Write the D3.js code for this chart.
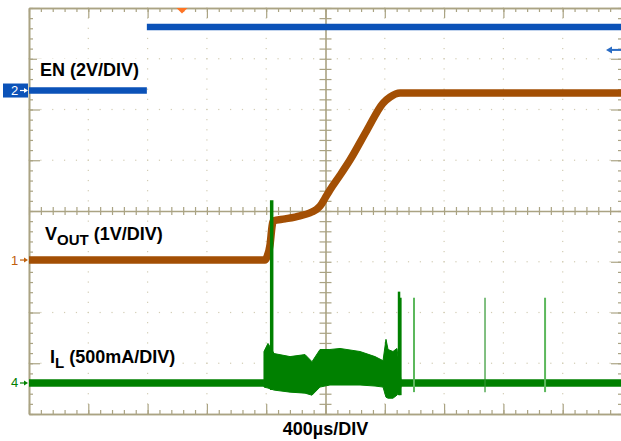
<!DOCTYPE html>
<html>
<head>
<meta charset="utf-8">
<script src="https://cdn.jsdelivr.net/npm/d3@7"></script>
<style>
  html, body { margin: 0; padding: 0; background: #fff; }
  svg { display: block; font-family: "Liberation Sans", Arial, sans-serif; }
</style>
</head>
<body>
<div id="scope"></div>
<script>
// horizontal: 10 div at 400us/div, screen starts at 0us
const timeTicks = d3.range(0, 4001, 400);
const minorTime = d3.range(0, 4001, 80);
const divTicks = d3.range(-4, 4.001, 1);
const minorDiv = d3.range(-4, 4.001, 0.2);

// channel setup: name, volts (or amps) per div, ground marker in divisions from centre
const chName = ["1", "2", "4"];
const chPerDiv = [1, 2, 0.5];
const chGround = [-0.966, 2.374, -3.389];

// EN, ch2 (V) - edge is too fast to show, so break the trace
const enTime = [0, 795, 795, 795, 4000];
const enVolt = [0, 0, null, 2.5, 2.5];

// VOUT, ch1 (V)
const voutTime = [0, 1592, 1605, 1626, 1639, 1646, 1727, 1828, 1895, 1936, 1963, 1997, 2030, 2098, 2165, 2280, 2388, 2435, 2503, 4000];
const voutVolt = [0, 0, 0.06, 0.30, 0.65, 0.77, 0.81, 0.87, 0.93, 0.99, 1.06, 1.22, 1.38, 1.67, 1.97, 2.56, 3.09, 3.21, 3.29, 3.29];

// IL, ch4 (A): quiet baseline pieces
const ilQuietTime = [[0, 1585], [2509, 4000]];
// switching band envelope
const ilBandTime = [1585, 1612, 1653, 1761, 1862, 1909, 1963, 2030, 2098, 2233, 2334, 2388, 2408, 2422, 2455, 2482, 2509];
const ilBandHigh = [0.31, 0.39, 0.29, 0.26, 0.28, 0.21, 0.33, 0.33, 0.34, 0.31, 0.26, 0.22, 0.43, 0.33, 0.31, 0.34, 0.03];
const ilBandLow = [-0.04, -0.05, -0.07, -0.09, -0.10, -0.12, -0.04, -0.02, -0.02, -0.02, -0.03, -0.04, -0.14, -0.15, -0.15, -0.12, -0.04];
// big spikes
const ilSpikeTime = [1637, 2496, 2505];
const ilSpikePeak = [1.80, 0.90, 0.84];
const ilSpikeLow = [-0.07, -0.12, -0.12];
// later glitches
const ilGlitchTime = [2597, 3076, 3481];
const ilGlitchPeak = [0.84, 0.84, 0.84];
const ilGlitchLow = [-0.09, -0.09, -0.09];

// trigger readouts
const trigTime = 1032;
const trigLevel = 1.6; // on ch2

const W = 621, H = 441;
const gridColor = "#aaa383";
const dotColor = "#d2ccb4";
const cBlue = "#0b52b8", cBrown = "#a34f04", cGreen = "#008000";

const x = d3.scaleLinear().domain([0, 4000]).range([29, 622]);
const yDiv = d3.scaleLinear().domain([-4, 4]).range([414, 8]);
const chY = i => v => yDiv(chGround[i] + v / chPerDiv[i]);
const y1 = chY(0), y2 = chY(1), y4 = chY(2);

const svg = d3.select("#scope").append("svg")
  .attr("width", W).attr("height", H);

// grid dots on the major lines
const dots = svg.append("g").attr("fill", dotColor);
timeTicks.filter(t => t > 0 && t < 4000 && t !== 2000).forEach(t => {
  minorDiv.forEach(d => {
    dots.append("rect").attr("x", x(t) - 0.6).attr("y", yDiv(d) - 0.6)
      .attr("width", 1.2).attr("height", 1.2);
  });
});
divTicks.filter(d => d > -4 && d < 4 && d !== 0).forEach(d => {
  minorTime.forEach(t => {
    dots.append("rect").attr("x", x(t) - 0.6).attr("y", yDiv(d) - 0.6)
      .attr("width", 1.2).attr("height", 1.2);
  });
});

const styleAxis = g => {
  g.select(".domain").attr("stroke", gridColor).attr("stroke-width", 1.6);
  g.selectAll(".tick line").attr("stroke", gridColor).attr("stroke-width", 1.2);
  g.selectAll(".tick text").remove();
};

// border with ticks
const border = svg.append("g");
[[d3.axisBottom(x), "translate(0,8)"], [d3.axisTop(x), "translate(0,414)"]].forEach(([ax, tr]) => {
  border.append("g").attr("transform", tr)
    .call(ax.tickValues(minorTime).tickSize(4).tickSizeOuter(0).tickFormat("")).call(styleAxis);
  border.append("g").attr("transform", tr)
    .call(ax.tickValues(timeTicks).tickSize(10).tickSizeOuter(0).tickFormat("")).call(styleAxis);
});
[[d3.axisRight(yDiv), "translate(29,0)"], [d3.axisLeft(yDiv), "translate(622,0)"]].forEach(([ax, tr]) => {
  border.append("g").attr("transform", tr)
    .call(ax.tickValues(minorDiv).tickSize(4).tickSizeOuter(0).tickFormat("")).call(styleAxis);
  border.append("g").attr("transform", tr)
    .call(ax.tickValues(divTicks).tickSize(11).tickSizeOuter(0).tickFormat("")).call(styleAxis);
});

// centre cross
const cx = svg.append("g").attr("transform", `translate(0,${yDiv(0)})`)
  .call(d3.axisBottom(x).tickValues(minorTime).tickSize(4).tickSizeOuter(0).tickFormat(""))
  .call(styleAxis);
cx.selectAll(".tick line").attr("y1", -4);
const cy = svg.append("g").attr("transform", `translate(${x(2000)},0)`)
  .call(d3.axisRight(yDiv).tickValues(minorDiv).tickSize(6).tickSizeOuter(0).tickFormat(""))
  .call(styleAxis);
cy.selectAll(".tick line").attr("x1", -6);

// channel labels
const labels = svg.append("g").attr("font-weight", "bold").attr("font-size", 18).attr("fill", "#000");
function addLabel(xp, yp, parts) {
  const bg = labels.append("rect").attr("fill", "#fff");
  const t = labels.append("text").attr("x", xp).attr("y", yp);
  parts.forEach(([s, sub], i) => {
    const back = i > 0 && parts[i - 1][1] && !sub;
    t.append("tspan").attr("font-size", sub ? 15 : 18)
      .attr("dy", sub ? 5 : (back ? -5 : 0)).text(s);
  });
  const b = t.node().getBBox();
  bg.attr("x", b.x - 3).attr("y", b.y - 1).attr("width", b.width + 6).attr("height", b.height + 2);
}
addLabel(40, 75.5, [["EN (2V/DIV)", false]]);
addLabel(45, 240, [["V", false], ["OUT", true], [" (1V/DIV)", false]]);
addLabel(50, 363, [["I", false], ["L", true], [" (500mA/DIV)", false]]);

svg.append("text").attr("x", x(2000)).attr("y", 435).attr("text-anchor", "middle")
  .attr("font-weight", "bold").attr("font-size", 18).text("400µs/DIV");

// traces
const traces = svg.append("g").attr("fill", "none").attr("stroke-linejoin", "round");

const enLine = d3.line().defined(d => d[1] !== null).x(d => x(d[0])).y(d => y2(d[1]));
traces.append("path").datum(d3.zip(enTime, enVolt))
  .attr("d", enLine).attr("stroke", cBlue).attr("stroke-width", 6.5);

const voutLine = d3.line().curve(d3.curveMonotoneX).x(d => x(d[0])).y(d => y1(d[1]));
traces.append("path").datum(d3.zip(voutTime, voutVolt))
  .attr("d", voutLine).attr("stroke", cBrown).attr("stroke-width", 7.5);

const ilLine = d3.line().x(d => x(d)).y(() => y4(0));
ilQuietTime.forEach(seg => {
  traces.append("path").datum(seg).attr("d", ilLine)
    .attr("stroke", cGreen).attr("stroke-width", 7.5);
});
const ilArea = d3.area().x(d => x(d[0])).y0(d => y4(d[2])).y1(d => y4(d[1]));
traces.append("path").datum(d3.zip(ilBandTime, ilBandHigh, ilBandLow))
  .attr("d", ilArea).attr("fill", cGreen).attr("stroke", cGreen).attr("stroke-width", 1);

ilSpikeTime.forEach((t, i) => {
  traces.append("line").attr("x1", x(t)).attr("x2", x(t))
    .attr("y1", y4(ilSpikeLow[i])).attr("y2", y4(ilSpikePeak[i]))
    .attr("stroke", cGreen).attr("stroke-width", i === 0 ? 3.5 : 2.5);
});
ilGlitchTime.forEach((t, i) => {
  traces.append("line").attr("x1", x(t)).attr("x2", x(t))
    .attr("y1", y4(ilGlitchLow[i])).attr("y2", y4(ilGlitchPeak[i]))
    .attr("stroke", i === 1 ? "#2e962e" : "#5cb85c").attr("stroke-width", i === 1 ? 1.2 : 2);
});

// ground markers
const markColors = ["#c0600c", cBlue, cGreen];
const marks = svg.append("g");
chName.forEach((n, i) => {
  const yy = yDiv(chGround[i]);
  const fg = i === 1 ? "#fff" : markColors[i];
  if (i === 1) marks.append("rect").attr("x", 3).attr("y", yy - 7).attr("width", 25).attr("height", 14).attr("fill", cBlue);
  marks.append("text").attr("x", 14.5).attr("y", yy + 4.5).attr("text-anchor", "middle")
    .attr("font-size", 13).attr("fill", fg).text(n);
  marks.append("line").attr("x1", 20).attr("x2", 25).attr("y1", yy).attr("y2", yy)
    .attr("stroke", fg).attr("stroke-width", 1.2);
  marks.append("path").attr("d", `M${24},${yy - 2.5}L${28},${yy}L${24},${yy + 2.5}Z`).attr("fill", fg);
});

// trigger position and level
const tx = x(trigTime);
marks.append("path").attr("d", `M${tx - 5.5},8L${tx + 5.5},8L${tx},13.5Z`).attr("fill", "#ff7424");
const ty = y2(trigLevel);
marks.append("line").attr("x1", 610).attr("x2", 621).attr("y1", ty).attr("y2", ty)
  .attr("stroke", "#2a6cc4").attr("stroke-width", 2);
marks.append("path").attr("d", `M606,${ty}L612,${ty - 3.5}L612,${ty + 3.5}Z`).attr("fill", "#2a6cc4");
</script>
</body>
</html>
